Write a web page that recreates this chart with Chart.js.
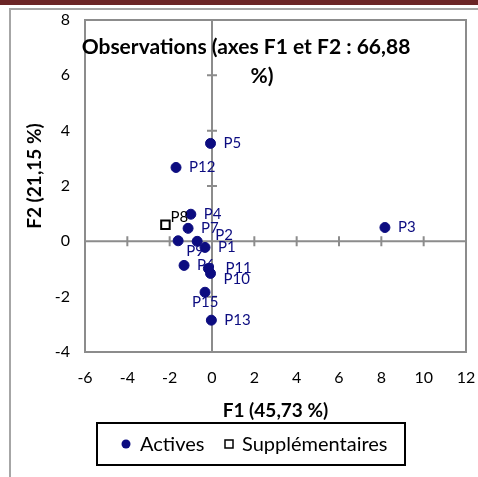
<!DOCTYPE html>
<html>
<head>
<meta charset="utf-8">
<script src="https://cdn.jsdelivr.net/npm/chart.js@4.4.1/dist/chart.umd.min.js"></script>
<style>
body{margin:0;background:#fff;width:478px;height:477px;overflow:hidden;position:relative}
#band{position:absolute;left:0;top:0;width:478px;height:5px;background:#6b2526}
#frame{position:absolute;left:9px;top:8px;width:480px;height:480px;border-left:2px solid #a6a6a6;border-top:2px solid #a6a6a6}
canvas{position:absolute;left:0;top:0}
</style>
</head>
<body>
<div id="band"></div>
<div id="frame"></div>
<canvas id="c" width="478" height="477"></canvas>
<script>
// observations actives
const activeNames=["P1","P2","P3","P4","P5","P6","P7","P9","P10","P11","P12","P13","P15"]
const activeF1=[-0.33,-0.7,8.17,-1.0,-0.07,-1.32,-1.13,-1.6,-0.07,-0.17,-1.7,-0.03,-0.33]
const activeF2=[-0.22,0.0,0.5,0.98,3.54,-0.87,0.47,0.02,-1.16,-0.98,2.67,-2.85,-1.84]
// observations supplementaires
const suppNames=["P8"]
const suppF1=[-2.2]
const suppF2=[0.6]

const xMin=-6,xMax=12,xStep=2
const yMin=-4,yMax=8,yStep=2

const titleLines=["Observations (axes F1 et F2 : 66,88","%)"]
const xTitle="F1 (45,73 %)"
const yTitle="F2 (21,15 %)"

// petits decalages des etiquettes (px)
const nudge={P2:[5,-6],P9:[-5,10],P10:[0,6],P11:[4,0],P15:[-26,10],P8:[-8,-8]}

const navy="#0c0c80"
const axisGray="#8c8c8c"

const ptLabels={
id:"ptLabels",
beforeDatasetsDraw(chart){
let ctx=chart.ctx
let a=chart.chartArea
let xs=chart.scales.x
let ys=chart.scales.y
ctx.save()
ctx.strokeStyle=axisGray
ctx.lineWidth=2
ctx.strokeRect(a.left,a.top,a.right-a.left,a.bottom-a.top)
let x0=xs.getPixelForValue(0)
let y0=ys.getPixelForValue(0)
ctx.beginPath()
ctx.moveTo(a.left,y0);ctx.lineTo(a.right,y0)
ctx.moveTo(x0,a.top);ctx.lineTo(x0,a.bottom)
xs.ticks.forEach(t=>{
let px=xs.getPixelForValue(t.value)
ctx.moveTo(px,y0-5);ctx.lineTo(px,y0+5)
})
ys.ticks.forEach(t=>{
let py=ys.getPixelForValue(t.value)
ctx.moveTo(x0-5,py);ctx.lineTo(x0+5,py)
})
ctx.stroke()
ctx.restore()
},
afterDatasetsDraw(chart){
let ctx=chart.ctx
ctx.save()
ctx.font="15px Lato"
ctx.textBaseline="middle"
ctx.textAlign="left"
chart.data.datasets.forEach((ds,di)=>{
let meta=chart.getDatasetMeta(di)
ctx.fillStyle=di==0?navy:"#000"
meta.data.forEach((el,i)=>{
let name=ds.names[i]
let n=nudge[name]||[0,0]
ctx.fillText(name,el.x+13+n[0],el.y+n[1])
})
})
// titre
ctx.fillStyle="#000"
ctx.textAlign="center"
ctx.font="bold 21px Lato"
ctx.fillText(titleLines[0],246,47)
ctx.fillText(titleLines[1],262,76)
// titre axe F2
ctx.save()
ctx.translate(35,176)
ctx.rotate(-Math.PI/2)
ctx.font="bold 19px Lato"
ctx.fillText(yTitle,0,0)
ctx.restore()
// legende
ctx.lineWidth=2
ctx.strokeStyle="#000"
ctx.strokeRect(97,423,308,42)
ctx.fillStyle=navy
ctx.beginPath();ctx.arc(126,444,4.5,0,Math.PI*2);ctx.fill()
ctx.fillStyle="#000"
ctx.textAlign="left"
ctx.font="20px Lato"
ctx.fillText("Actives",140,445)
ctx.lineWidth=1.5
ctx.strokeRect(225,440,8,8)
ctx.fillText("Supplémentaires",242,445)
ctx.restore()
}
}

new Chart(document.getElementById("c"),{
type:"scatter",
data:{
datasets:[
{
label:"Actives",
names:activeNames,
data:activeF1.map((v,i)=>({x:v,y:activeF2[i]})),
backgroundColor:navy,
borderColor:navy,
pointStyle:"circle",
pointRadius:5,
pointHoverRadius:5
},
{
label:"Supplémentaires",
names:suppNames,
data:suppF1.map((v,i)=>({x:v,y:suppF2[i]})),
backgroundColor:"#fff",
borderColor:"#000",
borderWidth:2,
pointStyle:"rect",
pointRadius:6,
pointHoverRadius:6
}
]
},
options:{
responsive:false,
animation:false,
layout:{padding:{left:0,top:20,right:12,bottom:0}},
plugins:{legend:{display:false},tooltip:{enabled:false}},
scales:{
x:{
type:"linear",min:xMin,max:xMax,
ticks:{stepSize:xStep,color:"#000",font:{family:"Lato",size:16},padding:16},
grid:{display:false,drawTicks:false},
border:{display:false},
title:{display:true,text:xTitle,color:"#000",font:{family:"Lato",size:19,weight:"bold"},padding:{top:0,bottom:55}},
afterFit(s){s.height=125;s.paddingLeft=0;s.paddingRight=0}
},
y:{
type:"linear",min:yMin,max:yMax,
ticks:{stepSize:yStep,color:"#000",font:{family:"Lato",size:16},padding:15},
grid:{display:false,drawTicks:false},
border:{display:false},
afterFit(s){s.width=85;s.paddingTop=0;s.paddingBottom=0}
}
}
},
plugins:[ptLabels]
})
</script>
</body>
</html>
